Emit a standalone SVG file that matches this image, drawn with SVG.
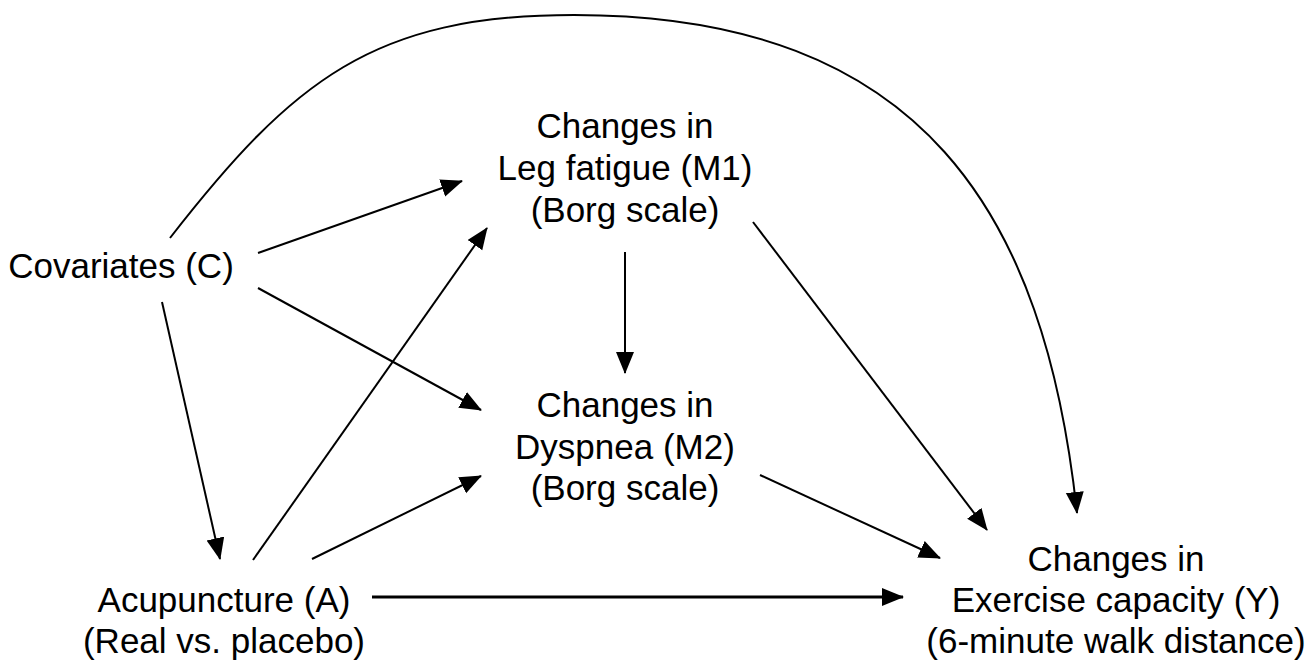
<svg xmlns="http://www.w3.org/2000/svg" width="1309" height="660" viewBox="0 0 1309 660">
<style>
text{font-family:"Liberation Sans",Arial,sans-serif;font-size:35px;fill:#000;text-anchor:middle}
.e{fill:none;stroke:#000;stroke-width:2}
.t{stroke-width:3}
</style>
<defs>
<marker id="ah" markerUnits="userSpaceOnUse" markerWidth="24" markerHeight="20" refX="21" refY="9" orient="auto" viewBox="0 0 24 20">
<path d="M0,0 L22,9 L0,18 z" fill="#000"/>
</marker>
</defs>
<rect width="1309" height="660" fill="#fff"/>
<g id="connectors">
<path class="e" d="M258,253 L462,181" marker-end="url(#ah)"/>
<path class="e" d="M258,288 L481,410" marker-end="url(#ah)"/>
<path class="e" d="M162,302 L220,559" marker-end="url(#ah)"/>
<path class="e" d="M253,560 L487,228" marker-end="url(#ah)"/>
<path class="e" d="M312,559 L481,476" marker-end="url(#ah)"/>
<path class="e t" d="M372,597 L903,597" marker-end="url(#ah)"/>
<path class="e" d="M625,252 L625,373" marker-end="url(#ah)"/>
<path class="e" d="M753,222 L987,530" marker-end="url(#ah)"/>
<path class="e" d="M760,475 L940,558" marker-end="url(#ah)"/>
<path class="e" d="M170,238 C293,80 374,15 574,15 C924,15 1045,215 1077,513" marker-end="url(#ah)"/>
</g>
<g id="node-C">
<text x="121" y="278">Covariates (C)</text>
</g>
<g id="node-M1">
<text x="625" y="138">Changes in</text>
<text x="625" y="180">Leg fatigue (M1)</text>
<text x="625" y="222">(Borg scale)</text>
</g>
<g id="node-M2">
<text x="625" y="417">Changes in</text>
<text x="625" y="459">Dyspnea (M2)</text>
<text x="625" y="500">(Borg scale)</text>
</g>
<g id="node-A">
<text x="224" y="612">Acupuncture (A)</text>
<text x="224" y="653">(Real vs. placebo)</text>
</g>
<g id="node-Y">
<text x="1116" y="571">Changes in</text>
<text x="1116" y="612">Exercise capacity (Y)</text>
<text x="1116" y="653">(6-minute walk distance)</text>
</g>
</svg>
